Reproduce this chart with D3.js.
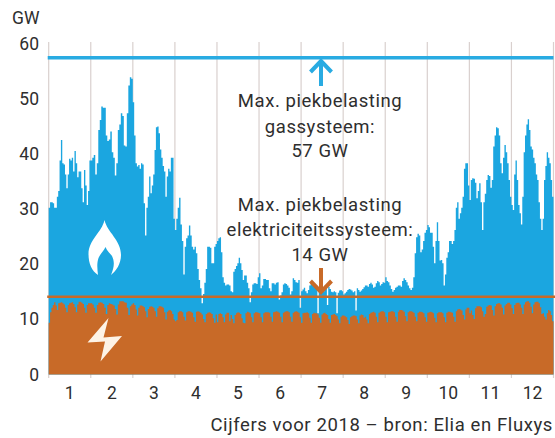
<!DOCTYPE html>
<html>
<head>
<meta charset="utf-8">
<script src="https://cdn.jsdelivr.net/npm/d3@7"></script>
<style>
  html, body { margin: 0; padding: 0; background: #fff; }
  text { font-family: Roboto, sans-serif; fill: #2e2e2e; }
</style>
</head>
<body>
<svg id="chart" width="555" height="438"></svg>
<script>
// ===== DATA (GW per day) =====
const months = ["1", "2", "3", "4", "5", "6", "7", "8", "9", "10", "11", "12"];
const yTicks = [0, 10, 20, 30, 40, 50, 60];
const gasPeak = 57;
const elecPeak = 14;

const gasJan = [30,31,31,30.8,30,30,32,33,38.5,42.2,38,37.8,36,33.5,36,38.8,38.5,39,36.5,40.2,38,35.5,36.5,36.5,33.5,31,36.8,34,30.5,33,38.5];
const gasFeb = [38.5,39,39.5,36,38,44,45.8,48.2,48,48,43,42,42.3,43.7,40,39,35.8,38,44,45,47,46.5,41.2,41,47,52,53.5,53.2];
const gasMar = [49,43,38,37.4,37.7,37,38,37.8,30.8,25,30,32,35.6,32.6,34,36,40.4,44.5,44.6,43.4,40.5,39,37.5,36.5,32,35.6,37,36.5,39,39,28];
const gasApr = [26,28,30,31.8,27,24,18,23,24.5,25,26.8,25,23,22.5,23,21.8,19,17,15.5,12.8,14.5,16.5,19,23,23,22.8,20,20,23,23.5];
const gasMay = [24,24.5,24.7,22,17.5,16.5,16,16.2,16.2,16,15,14.8,18.5,19,19.5,20,21,20,18.8,17,17.8,17.8,16.5,15.5,13,14.8,16.2,16.4,16.4,16.3,17.5];
const gasJun = [18.2,15.5,16,17.2,17.2,17,17,15.5,15,16.4,16.4,16.2,16.5,16.6,13.5,14.2,14.8,16.2,16.4,16.3,16,15.6,14.4,15,17.3,17,16.6,16.5,17,12];
const gasJul = [15,15.3,15.6,15,14.6,15.2,16,16.4,16.3,16,16,15.7,11,15.6,15.8,15,14.9,15.3,15.6,12.5,15.8,15.4,14.9,14.8,15,14.8,11,14.7,15.1,15.2,15];
const gasAug = [14.4,14.6,14.9,15.2,15.4,15.3,15.1,14.8,15,11.5,15.5,15.2,14.9,15.1,15.4,15.7,16,16,15.8,16.3,16.5,16.2,15.6,15.8,16.4,16.8,16.6,16,16.3,16.6,16.5];
const gasSep = [17.5,16.8,16.6,16,15.4,14.9,15.2,15.6,15.8,16,16,15.8,16.8,17.3,17,16.6,16,15.5,15.2,15.6,17.5,21.8,24.7,25.3,25,22,22.5,24,25.5,26];
const gasOct = [26.9,26.5,25.5,25.5,23,20,24,27.4,24,20.5,20.6,20,16,18,21,22,24,24,23.5,24,26,30,31,28,29,30,32,37,38,38,34];
const gasNov = [31.4,35,35.3,35.2,34.5,31.7,33,34.4,31,26,31,32.5,35,35.9,35.7,33.6,35,41,43,44.5,44.3,43,38,36.2,39,41.3,40,38,35,32];
const gasDec = [30.5,29.6,36,38.5,35,30.5,29,27,32,40,43,45,45.9,44,41,40.5,39,38,36,35,31,28,26,28,35,37.5,40,39,38,35,32];

const elecJan = [9.3,11.2,12.0,12.5,13.0,12.4,11.6,12.8,12.9,13.0,12.8,12.6,12.0,11.2,12.5,12.8,12.9,13.0,12.7,12.1,11.2,12.6,13.1,13.1,12.9,12.7,12.0,11.1,12.5,12.8,12.8];
const elecFeb = [12.8,12.6,12.0,11.1,12.5,12.9,13.0,12.9,12.7,12.0,10.9,12.5,12.8,12.7,12.6,12.4,11.8,10.8,12.6,13.2,13.2,13.2,13.0,12.9,12.0,10.7,12.3,12.6];
const elecMar = [12.8,12.5,11.7,10.6,12.0,12.4,12.4,12.3,12.1,11.4,10.3,11.8,12.2,12.3,12.2,12.0,11.4,10.4,11.9,12.3,12.3,12.2,12.0,11.2,9.9,11.3,11.5,11.6,11.4,10.9,9.9];
const elecApr = [9.6,9.8,11.2,11.4,11.4,11.2,10.4,9.7,11.2,11.4,11.4,11.3,11.1,10.3,9.5,11.3,11.4,11.3,11.1,10.8,10.0,9.4,10.9,11.1,11.2,11.1,10.9,10.1,9.3,10.8];
const elecMay = [9.4,10.9,11.0,10.9,10.3,9.4,10.8,11.1,11.1,9.6,10.7,10.0,9.2,10.7,11.0,11.2,11.1,10.9,10.1,9.3,9.2,11.0,11.3,11.2,11.0,10.3,9.4,11.0,11.2,11.2,11.1];
const elecJun = [11.0,10.3,9.4,11.0,11.2,11.2,11.2,11.1,10.4,9.5,11.2,11.3,11.4,11.3,11.1,10.4,9.4,11.1,11.3,11.4,11.4,11.2,10.4,9.5,11.1,11.3,11.4,11.3,11.1,10.3];
const elecJul = [9.3,11.0,11.1,11.1,11.2,11.0,10.2,9.3,10.9,11.1,11.0,11.0,10.8,10.2,9.3,10.8,11.0,11.1,10.9,10.7,10.0,9.3,10.7,10.8,10.9,10.7,10.5,9.9,9.2,10.4,10.6];
const elecAug = [10.6,10.5,10.3,9.8,9.1,10.3,10.5,10.6,10.6,10.5,9.9,9.2,10.6,10.8,10.7,10.2,10.4,9.9,9.2,10.9,11.1,11.2,11.3,11.1,10.4,9.4,11.1,11.3,11.4,11.4,11.2];
const elecSep = [10.4,9.4,11.2,11.3,11.4,11.4,11.2,10.4,9.5,11.3,11.6,11.6,11.5,11.3,10.5,9.6,11.2,11.4,11.4,11.3,11.1,10.4,9.6,11.1,11.3,11.3,11.2,11.0,10.3,9.5];
const elecOct = [11.1,11.2,11.3,11.2,11.0,10.2,9.4,11.0,11.2,11.2,11.2,11.0,10.3,9.4,11.1,11.3,11.3,11.2,11.1,10.4,9.5,11.4,11.7,11.8,11.7,11.5,10.7,9.9,11.7,12.0,12.0];
const elecNov = [11.0,11.5,10.7,10.0,11.9,12.3,12.3,12.3,12.1,11.4,10.4,10.9,12.2,12.4,12.5,12.4,11.6,10.6,12.3,12.7,12.8,12.8,12.6,12.0,10.8,12.4,12.7,12.9,12.9,12.6];
const elecDec = [11.9,10.9,12.5,12.8,12.9,12.9,12.6,12.0,10.9,12.6,13.0,13.2,13.2,12.9,12.2,11.0,12.6,13.0,13.1,13.1,12.8,12.1,10.9,11.0,10.4,9.9,11.0,11.6,11.4,10.7,9.6];

const gasByMonth = [gasJan, gasFeb, gasMar, gasApr, gasMay, gasJun, gasJul, gasAug, gasSep, gasOct, gasNov, gasDec];
const elecByMonth = [elecJan, elecFeb, elecMar, elecApr, elecMay, elecJun, elecJul, elecAug, elecSep, elecOct, elecNov, elecDec];

const blue = "#1ba6e0";
const orange = "#c86a28";
const gridColor = "#d9d0ce";

// ===== SCALES =====
const svg = d3.select("#chart");
const left = 48.7, right = 553.5, bottom = 374.5;

const x = d3.scaleLinear().domain([0, 12]).range([left, right]);
const y = d3.scaleLinear().domain([0, 60]).range([bottom, 41]);
// the printed tick labels sit a little tighter than the marks
const yLabels = d3.scaleLinear().domain([0, 60]).range([bottom, 43.5]);
const xMonths = d3.scaleBand().domain(months).range([left, right]);

// every month has the same width in the original, days are spread inside it
function flatten(byMonth) {
  return byMonth.flatMap((days, m) => days.map((v, i) => ({ t: m + (i + 0.5) / days.length, v })));
}
function withEnds(points) {
  const first = { t: 0, v: points[0].v };
  const last = { t: 12, v: points[points.length - 1].v };
  return [first, ...points, last];
}

// ===== GRID =====
svg.append("g").selectAll("line")
  .data(d3.range(0, 13))
  .join("line")
  .attr("x1", d => x(d))
  .attr("x2", d => x(d))
  .attr("y1", 42)
  .attr("y2", 378)
  .attr("stroke", gridColor)
  .attr("stroke-width", 1.2);

// ===== AREAS =====
const area = d3.area()
  .curve(d3.curveStep)
  .x(d => x(d.t))
  .y0(y(0))
  .y1(d => y(d.v));

svg.append("path")
  .attr("d", area(withEnds(flatten(gasByMonth))))
  .attr("fill", blue);

svg.append("path")
  .attr("d", area(withEnds(flatten(elecByMonth))))
  .attr("fill", orange);

// ===== PEAK LINES =====
svg.append("line")
  .attr("x1", left - 1).attr("x2", right)
  .attr("y1", y(gasPeak)).attr("y2", y(gasPeak))
  .attr("stroke", "#29abe2").attr("stroke-width", 3.4);

svg.append("line")
  .attr("x1", left - 1.5).attr("x2", 555)
  .attr("y1", y(elecPeak)).attr("y2", y(elecPeak))
  .attr("stroke", orange).attr("stroke-width", 2.6);

// ===== AXES =====
const yAxis = svg.append("g")
  .attr("transform", "translate(39,0)")
  .call(d3.axisLeft(yLabels).tickValues(yTicks).tickSize(0).tickPadding(0));
yAxis.select(".domain").remove();
yAxis.selectAll("text").style("font-size", "17.5px").style("font-family", "Roboto, sans-serif").attr("fill", "#2e2e2e");

const xAxis = svg.append("g")
  .attr("transform", "translate(0,384)")
  .call(d3.axisBottom(xMonths).tickSize(0).tickPadding(3));
xAxis.select(".domain").remove();
xAxis.selectAll("text").style("font-size", "17.5px").style("font-family", "Roboto, sans-serif").attr("fill", "#2e2e2e");

svg.append("text")
  .attr("x", 12).attr("y", 23.5)
  .style("font-size", "17.5px")
  .text("GW");

// ===== ANNOTATIONS =====
const noteLines = [
  ["Max. piekbelasting", 107],
  ["gassysteem:", 132.5],
  ["57 GW", 157],
  ["Max. piekbelasting", 211],
  ["elektriciteitssysteem:", 236],
  ["14 GW", 261]
];
svg.append("g").selectAll("text")
  .data(noteLines)
  .join("text")
  .attr("x", 320)
  .attr("y", d => d[1])
  .attr("text-anchor", "middle")
  .style("font-size", "18.5px")
  .style("letter-spacing", "0.55px")
  .text(d => d[0]);

svg.append("text")
  .attr("x", 553).attr("y", 431)
  .attr("text-anchor", "end")
  .style("font-size", "18.5px")
  .style("letter-spacing", "0.6px")
  .text("Cijfers voor 2018 – bron: Elia en Fluxys");

// arrows
svg.append("path")
  .attr("d", "M321 86V61M310.5 72L321 61L331.5 72")
  .attr("fill", "none").attr("stroke", "#29abe2").attr("stroke-width", 4);
svg.append("path")
  .attr("d", "M321 268V292M310.5 281L321 292L331.5 281")
  .attr("fill", "none").attr("stroke", orange).attr("stroke-width", 4);

// flame and bolt icons
svg.append("path")
  .attr("d", "M104.5 220C107 232 121 240 121 255C121 264 116 271 111 275C114 268 115 262 112 256C110 253 107 251 105.5 247C104 251 100 254 98.5 258C96.5 264 97.5 270 98 275C92 271 88.5 264 88.5 254C88.5 240 102 232 104.5 220Z")
  .attr("fill", "#fff");
svg.append("path")
  .attr("d", "M108.5 318L103.5 337.5L122 336L100.5 361.5L105 341.5L87.5 342.5Z")
  .attr("fill", "#fdf3e6");
</script>
</body>
</html>
